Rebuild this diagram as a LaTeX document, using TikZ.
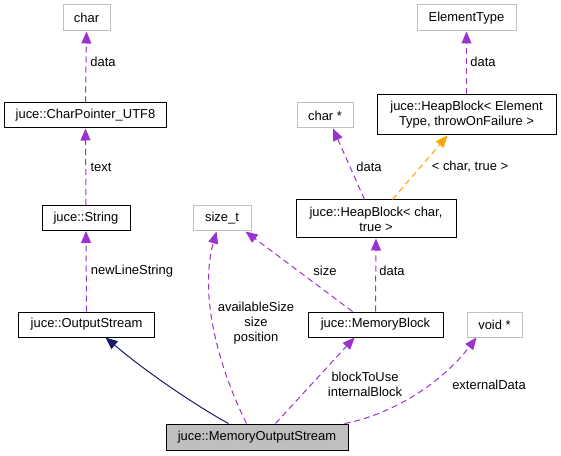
\documentclass[tikz,border=0pt]{standalone}
\usepackage{fontspec}
\setmainfont{Liberation Sans}
\usetikzlibrary{arrows.meta}
\definecolor{purp}{HTML}{9A32CD}
\definecolor{navyc}{HTML}{191970}
\definecolor{orng}{HTML}{FFA500}
\definecolor{lgray}{HTML}{BFBFBF}
\begin{document}
\begin{tikzpicture}[x=1bp,y=-1bp,
  font=\fontsize{13}{15}\selectfont,
  box/.style={draw=black, rectangle, inner sep=0pt, align=center, line width=1bp},
  leaf/.style={box, draw=lgray},
  lbl/.style={inner sep=0pt, align=center},
  tip/.style={-{Triangle[length=12bp,width=10bp]}},
  dep/.style={tip, draw=purp, line width=1bp, dash pattern=on 6bp off 4bp},
  tmpl/.style={tip, draw=orng, line width=1bp, dash pattern=on 6bp off 4bp},
  inh/.style={tip, draw=navyc, line width=1bp}]
\useasboundingbox (0,0) rectangle (561,456);
% nodes
\node[leaf, minimum width=47bp, minimum height=26bp] (chr) at (86.5,18) {char};
\node[box, minimum width=161bp, minimum height=25bp] (cp) at (85.5,115.5) {juce::CharPointer\_UTF8};
\node[box, minimum width=88bp, minimum height=25bp] (str) at (86,218) {juce::String};
\node[leaf, minimum width=58bp, minimum height=25bp] (szt) at (222,218.5) {size\_t};
\node[box, minimum width=135bp, minimum height=25bp] (os) at (86.5,324.5) {juce::OutputStream};
\node[box, fill=lgray, minimum width=182bp, minimum height=26bp] (mos) at (257,437) {juce::MemoryOutputStream};
\node[box, minimum width=135bp, minimum height=25bp] (mb) at (375.5,324.5) {juce::MemoryBlock};
\node[leaf, minimum width=55bp, minimum height=25bp] (vp) at (494.5,324.5) {void *};
\node[box, minimum width=160bp, minimum height=38bp] (hbc) at (376,219) {juce::HeapBlock< char,\\true >};
\node[leaf, minimum width=56bp, minimum height=25bp] (cps) at (325,115.5) {char *};
\node[box, minimum width=179bp, minimum height=40bp] (hbe) at (466.5,115) {juce::HeapBlock< Element\\Type, throwOnFailure >};
\node[leaf, minimum width=99bp, minimum height=26bp] (et) at (466.5,18) {ElementType};
% labels
\node[lbl] (l1) at (103,62) {data};
\node[lbl] (l2) at (101,167) {text};
\node[lbl] (l3) at (132,271) {newLineString};
\node[lbl] (l4) at (256,323) {availableSize\\size\\position};
\node[lbl] (l5) at (325,271) {size};
\node[lbl] (l6) at (392,271) {data};
\node[lbl] (l7) at (365,384) {blockToUse\\internalBlock};
\node[lbl] (l8) at (489,385) {externalData};
\node[lbl] (l9) at (369,167) {data};
\node[lbl] (l10) at (470,167) {< char, true >};
\node[lbl] (l11) at (483,62) {data};
% connectors
\draw[dep] (cp.north) -- (chr.south);
\draw[dep] (str.north) -- (cp.south);
\draw[dep] (os.north) -- (str.south);
\draw[inh] ([xshift=63bp]mos.north west) .. controls (200,408) and (150,375) .. ([xshift=87bp]os.south west);
\draw[dep] ([xshift=81bp]mos.north west) .. controls (215,360) and (200,290) .. ([xshift=24bp]szt.south west);
\draw[dep] ([xshift=-91bp]mb.north east) -- ([xshift=-6bp]szt.south east);
\draw[dep] (mb.north) -- (hbc.south);
\draw[dep] ([xshift=69bp]hbc.north west) -- ([xshift=8bp]cps.south);
\draw[tmpl] ([xshift=97bp]hbc.north west) -- ([xshift=71bp]hbe.south west);
\draw[dep] (hbe.north) -- (et.south);
\draw[dep] ([xshift=110bp]mos.north west) -- ([xshift=47bp]mb.south west);
\draw[dep] ([xshift=179bp]mos.north west) .. controls (390,415) and (440,385) .. ([xshift=10bp]vp.south west);
\end{tikzpicture}
\end{document}
